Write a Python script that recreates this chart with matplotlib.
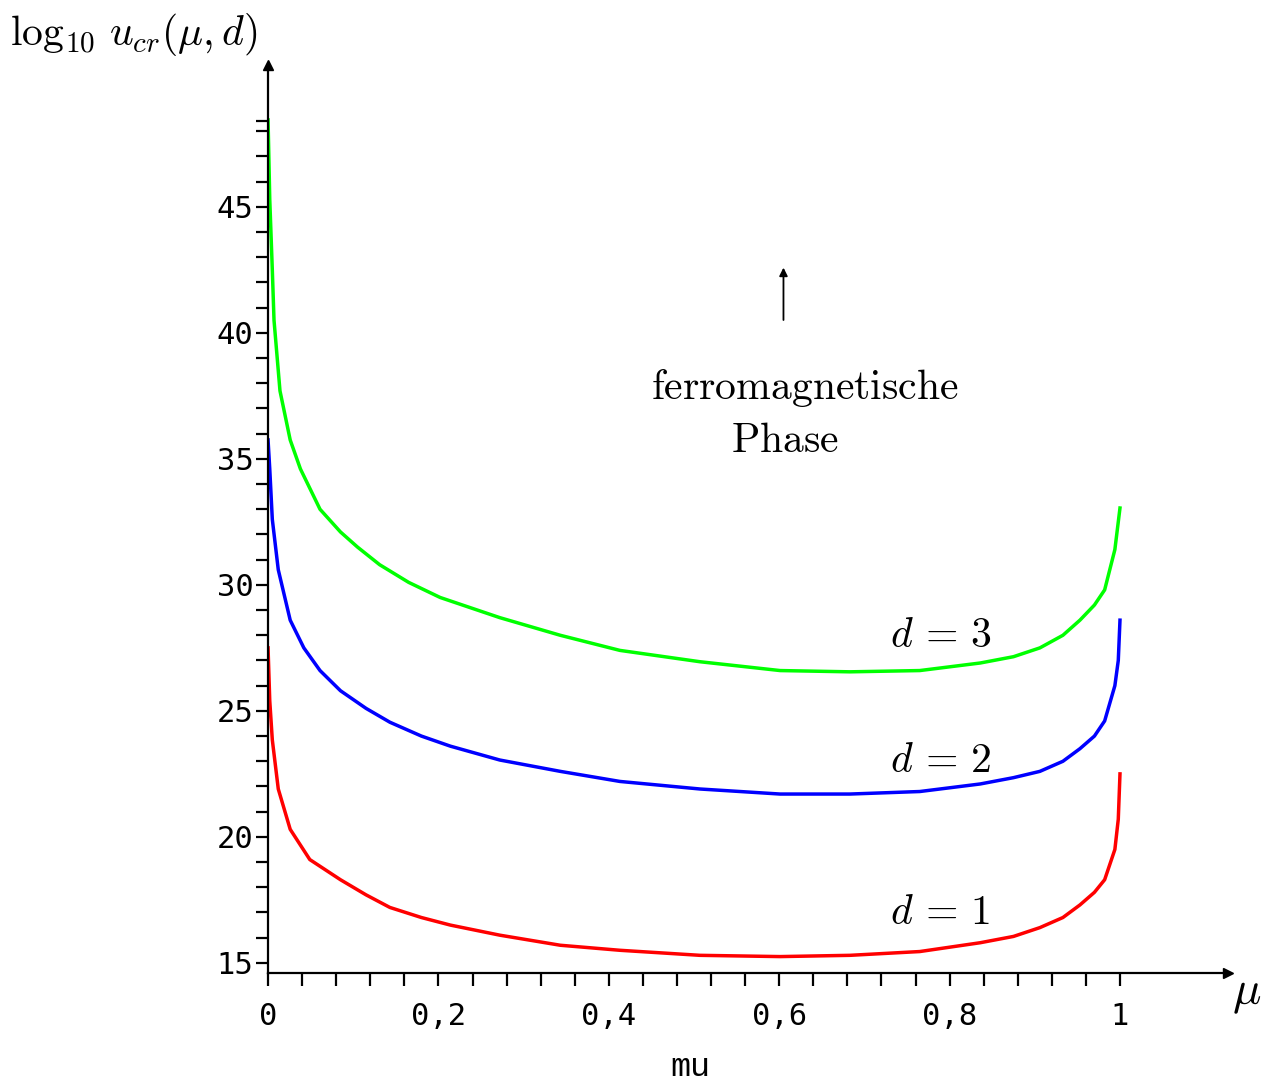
import matplotlib
matplotlib.use("Agg")
import matplotlib.pyplot as plt
from matplotlib.ticker import FixedLocator, FuncFormatter

plt.rcParams['mathtext.fontset'] = 'cm'

# values (mu, log10 u_cr)
mu_d1 = [0.0, 0.002, 0.005, 0.012, 0.026, 0.049, 0.085, 0.115, 0.143, 0.180, 0.214,
         0.272, 0.343, 0.413, 0.507, 0.601, 0.683, 0.765, 0.836, 0.875, 0.906, 0.933,
         0.953, 0.970, 0.982, 0.994, 0.998, 1.0]
u_d1 = [27.5, 25.4, 23.85, 21.9, 20.3, 19.1, 18.3, 17.7, 17.2, 16.8, 16.5,
        16.1, 15.7, 15.5, 15.3, 15.25, 15.3, 15.45, 15.8, 16.05, 16.4, 16.8,
        17.3, 17.8, 18.3, 19.5, 20.7, 22.5]

mu_d2 = [0.0, 0.002, 0.005, 0.012, 0.026, 0.042, 0.061, 0.085, 0.115, 0.143, 0.180,
         0.214, 0.272, 0.343, 0.413, 0.507, 0.601, 0.683, 0.765, 0.836, 0.875, 0.906,
         0.933, 0.953, 0.970, 0.982, 0.994, 0.998, 1.0]
u_d2 = [35.75, 34.6, 32.6, 30.6, 28.6, 27.5, 26.6, 25.8, 25.1, 24.55, 24.0,
        23.6, 23.05, 22.6, 22.2, 21.9, 21.7, 21.7, 21.8, 22.1, 22.35, 22.6,
        23.0, 23.5, 24.0, 24.6, 26.0, 27.0, 28.6]

mu_d3 = [0.0, 0.002, 0.005, 0.007, 0.014, 0.026, 0.038, 0.061, 0.085, 0.105, 0.131,
         0.165, 0.202, 0.272, 0.343, 0.413, 0.507, 0.601, 0.683, 0.765, 0.836, 0.875,
         0.906, 0.933, 0.953, 0.970, 0.982, 0.994, 1.0]
u_d3 = [48.45, 45.3, 42.5, 40.5, 37.7, 35.75, 34.6, 33.0, 32.1, 31.5, 30.8,
        30.1, 29.5, 28.7, 28.0, 27.4, 26.95, 26.6, 26.55, 26.6, 26.9, 27.15,
        27.5, 28.0, 28.6, 29.2, 29.8, 31.4, 33.05]

x_major = [0, 0.2, 0.4, 0.6, 0.8, 1.0]
x_minor = [i * 0.04 for i in range(26)]
y_major = [15, 20, 25, 30, 35, 40, 45]
y_minor = list(range(15, 49)) + [48.4]


def comma_label(v, pos):
    if abs(v) < 1e-9:
        return '0'
    if abs(v - 1) < 1e-9:
        return '1'
    return '{:.1f}'.format(v).replace('.', ',')


fig = plt.figure(figsize=(12.74, 10.83), dpi=100)
ax = fig.add_axes([0.2104, 0.1016, 0.7535, 0.8384])

ax.plot(mu_d1, u_d1, color='#ff0000', lw=2.5)
ax.plot(mu_d2, u_d2, color='#0000ff', lw=2.5)
ax.plot(mu_d3, u_d3, color='#00ff00', lw=2.5)

ax.set_xlim(0, 1.1268)
ax.set_ylim(14.60, 50.63)

for s in ['top', 'right']:
    ax.spines[s].set_visible(False)
for s in ['left', 'bottom']:
    ax.spines[s].set_linewidth(1.6)

ax.xaxis.set_major_locator(FixedLocator(x_major))
ax.xaxis.set_minor_locator(FixedLocator(x_minor))
ax.xaxis.set_major_formatter(FuncFormatter(comma_label))
ax.yaxis.set_major_locator(FixedLocator(y_major))
ax.yaxis.set_minor_locator(FixedLocator(y_minor))

ax.tick_params(axis='both', which='both', direction='out', length=9, width=1.6)
ax.tick_params(axis='x', which='major', pad=12, labelsize=22)
ax.tick_params(axis='y', which='major', pad=1.5, labelsize=22)
for lab in ax.get_xticklabels() + ax.get_yticklabels():
    lab.set_fontfamily('DejaVu Sans Mono')
    lab.set_fontweight('light')

# axis arrow heads
ax.plot([0], [1], marker='^', color='black', ms=7, transform=ax.transAxes, clip_on=False)
ax.plot([1], [0], marker='>', color='black', ms=7, transform=ax.transAxes, clip_on=False)

ax.text(0.730, 28.0, r'$d\,=\,3$', fontsize=30, va='center', ha='left')
ax.text(0.730, 23.05, r'$d\,=\,2$', fontsize=30, va='center', ha='left')
ax.text(0.730, 17.0, r'$d\,=\,1$', fontsize=30, va='center', ha='left')

ax.text(0.630, 37.8, r'$\mathrm{ferromagnetische}$', fontsize=30, va='center', ha='center')
ax.text(0.607, 35.75, r'$\mathrm{Phase}$', fontsize=30, va='center', ha='center')
ax.annotate('', xy=(0.605, 42.7), xytext=(0.605, 40.4),
            arrowprops=dict(arrowstyle='-|>', lw=1.3, color='black', mutation_scale=12))

fig.text(10 / 1274, 1 - 35 / 1083, r'$\log_{10}\,u_{cr}(\mu, d)$', fontsize=30,
         va='center', ha='left')
fig.text(1247 / 1274, 1 - 993 / 1083, r'$\mu$', fontsize=34, va='center', ha='center')
fig.text(690 / 1274, 1 - 1068 / 1083, 'mu', fontsize=24, family='Liberation Mono',
         va='center', ha='center')

fig.savefig('out.png', dpi=100)
